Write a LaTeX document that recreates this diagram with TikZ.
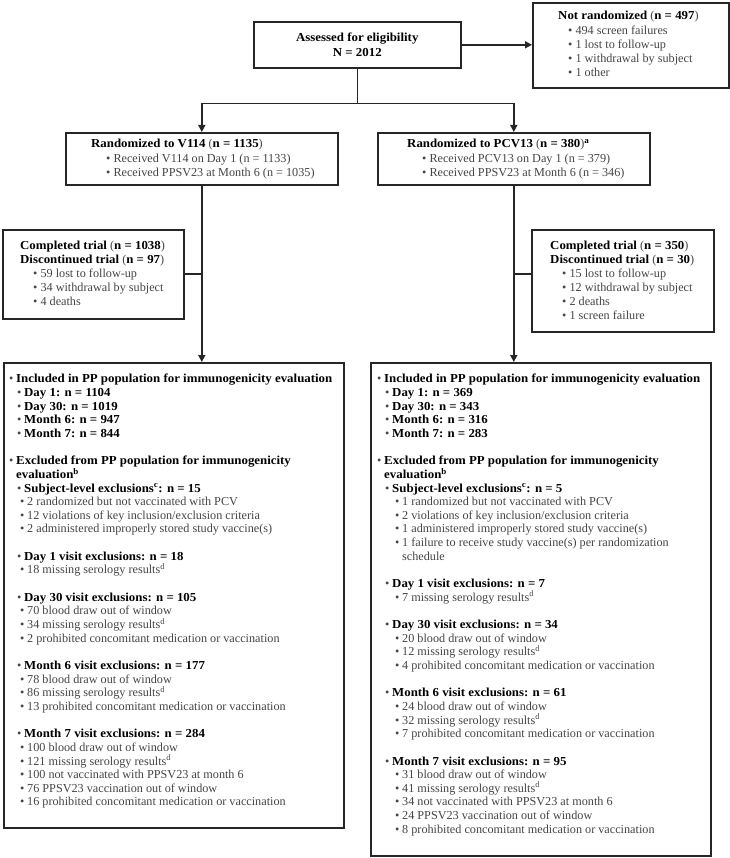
\documentclass[tikz,border=0pt]{standalone}
\usepackage{fontspec}
\setmainfont{Liberation Serif}[BoldFeatures={FakeStretch=1.055}]
\usetikzlibrary{arrows.meta}
\definecolor{txt}{gray}{0.27}
\definecolor{edge}{gray}{0.15}
\newcommand\bu{\makebox[7pt][l]{•}}
\newcommand\B[1]{{\bfseries\color{black}#1}}
\newcommand\Ltwo{\hspace*{8pt}\bu}
\newcommand\Lthr{\hspace*{11pt}\bu}
\newcommand\Rtwo{\hspace*{8pt}\bu}
\newcommand\Rthr{\hspace*{18pt}\bu}
\newcommand\st{\rule{0pt}{9pt}}
\begin{document}
\begin{tikzpicture}[x=1pt,y=-1pt,
  box/.style={draw=edge, line width=1.6pt, anchor=north west, inner sep=0pt},
  tx/.style={anchor=north west, inner sep=0pt, align=left, text=txt},
  ln/.style={line width=1.6pt, draw=edge},
  arr/.style={ln, -{Triangle[length=7pt,width=7pt]}}]
\useasboundingbox (0,0) rectangle (729,858);

% boxes
\node[box, minimum width=207pt, minimum height=46pt] (assess) at (253,21) {};
\node[box, minimum width=196pt, minimum height=85pt] (nr) at (532,2) {};
\node[box, minimum width=272pt, minimum height=52pt] (v114) at (65,132) {};
\node[box, minimum width=272pt, minimum height=52pt] (pcv) at (377,132) {};
\node[box, minimum width=181pt, minimum height=89pt] (compL) at (2,229) {};
\node[box, minimum width=182pt, minimum height=102pt] (compR) at (531,229) {};
\node[box, minimum width=340pt, minimum height=465pt] (bigL) at (3,362) {};
\node[box, minimum width=340pt, minimum height=493pt] (bigR) at (370,362) {};

% texts
\node[align=center, inner sep=0pt, font=\fontsize{12.2}{15}\selectfont\bfseries] (assesst) at (assess.center) {Assessed for eligibility\\N = 2012};

\node[tx, font=\fontsize{12.2}{14.25}\selectfont] (nrt) at (558,10.6) {\st\B{Not randomized} (\B{n = 497})\\
\hspace*{10pt}• 494 screen failures\\
\hspace*{10pt}• 1 lost to follow-up\\
\hspace*{10pt}• 1 withdrawal by subject\\
\hspace*{10pt}• 1 other};

\node[tx, font=\fontsize{12.2}{14.5}\selectfont] (v114t) at (91,138.6) {\st\B{Randomized to V114} (\B{n = 1135})\\
\hspace*{15pt}• Received V114 on Day 1 (n = 1133)\\
\hspace*{15pt}• Received PPSV23 at Month 6 (n = 1035)};

\node[tx, font=\fontsize{12.2}{14.5}\selectfont] (pcvt) at (407,138.6) {\st\B{Randomized to PCV13} (\B{n = 380})\textsuperscript{\B{a}}\\
\hspace*{15pt}• Received PCV13 on Day 1 (n = 379)\\
\hspace*{15pt}• Received PPSV23 at Month 6 (n = 346)};

\node[tx, font=\fontsize{12.2}{14}\selectfont] (compLt) at (20,240.6) {\st\B{Completed trial} (\B{n = 1038})\\
\B{Discontinued trial} (\B{n = 97})\\
\hspace*{13pt}• 59 lost to follow-up\\
\hspace*{13pt}• 34 withdrawal by subject\\
\hspace*{13pt}• 4 deaths};

\node[tx, font=\fontsize{12.2}{14}\selectfont] (compRt) at (550,240.6) {\st\B{Completed trial} (\B{n = 350})\\
\B{Discontinued trial} (\B{n = 30})\\
\hspace*{12pt}• 15 lost to follow-up\\
\hspace*{12pt}• 12 withdrawal by subject\\
\hspace*{12pt}• 2 deaths\\
\hspace*{12pt}• 1 screen failure};

\node[tx, font=\fontsize{12.2}{13.65}\selectfont] (bigLt) at (9,373.6) {\st\bu\B{Included in PP population for immunogenicity evaluation}\\
\Ltwo\B{Day 1: n = 1104}\\
\Ltwo\B{Day 30: n = 1019}\\
\Ltwo\B{Month 6: n = 947}\\
\Ltwo\B{Month 7: n = 844}\\[13.65pt]
\bu\B{Excluded from PP population for immunogenicity}\\
\hspace*{7pt}\B{evaluation\textsuperscript{b}}\\
\Ltwo\B{Subject-level exclusions\textsuperscript{c}: n = 15}\\
\Lthr 2 randomized but not vaccinated with PCV\\
\Lthr 12 violations of key inclusion/exclusion criteria\\
\Lthr 2 administered improperly stored study vaccine(s)\\[13.65pt]
\Ltwo\B{Day 1 visit exclusions: n = 18}\\
\Lthr 18 missing serology results\textsuperscript{d}\\[13.65pt]
\Ltwo\B{Day 30 visit exclusions: n = 105}\\
\Lthr 70 blood draw out of window\\
\Lthr 34 missing serology results\textsuperscript{d}\\
\Lthr 2 prohibited concomitant medication or vaccination\\[13.65pt]
\Ltwo\B{Month 6 visit exclusions: n = 177}\\
\Lthr 78 blood draw out of window\\
\Lthr 86 missing serology results\textsuperscript{d}\\
\Lthr 13 prohibited concomitant medication or vaccination\\[13.65pt]
\Ltwo\B{Month 7 visit exclusions: n = 284}\\
\Lthr 100 blood draw out of window\\
\Lthr 121 missing serology results\textsuperscript{d}\\
\Lthr 100 not vaccinated with PPSV23 at month 6\\
\Lthr 76 PPSV23 vaccination out of window\\
\Lthr 16 prohibited concomitant medication or vaccination};

\node[tx, font=\fontsize{12.2}{13.65}\selectfont] (bigRt) at (377,373.6) {\st\bu\B{Included in PP population for immunogenicity evaluation}\\
\Rtwo\B{Day 1: n = 369}\\
\Rtwo\B{Day 30: n = 343}\\
\Rtwo\B{Month 6: n = 316}\\
\Rtwo\B{Month 7: n = 283}\\[13.65pt]
\bu\B{Excluded from PP population for immunogenicity}\\
\hspace*{7pt}\B{evaluation\textsuperscript{b}}\\
\Rtwo\B{Subject-level exclusions\textsuperscript{c}: n = 5}\\
\Rthr 1 randomized but not vaccinated with PCV\\
\Rthr 2 violations of key inclusion/exclusion criteria\\
\Rthr 1 administered improperly stored study vaccine(s)\\
\Rthr 1 failure to receive study vaccine(s) per randomization\\
\hspace*{25pt}schedule\\[13.65pt]
\Rtwo\B{Day 1 visit exclusions: n = 7}\\
\Rthr 7 missing serology results\textsuperscript{d}\\[13.65pt]
\Rtwo\B{Day 30 visit exclusions: n = 34}\\
\Rthr 20 blood draw out of window\\
\Rthr 12 missing serology results\textsuperscript{d}\\
\Rthr 4 prohibited concomitant medication or vaccination\\[13.65pt]
\Rtwo\B{Month 6 visit exclusions: n = 61}\\
\Rthr 24 blood draw out of window\\
\Rthr 32 missing serology results\textsuperscript{d}\\
\Rthr 7 prohibited concomitant medication or vaccination\\[13.65pt]
\Rtwo\B{Month 7 visit exclusions: n = 95}\\
\Rthr 31 blood draw out of window\\
\Rthr 41 missing serology results\textsuperscript{d}\\
\Rthr 34 not vaccinated with PPSV23 at month 6\\
\Rthr 24 PPSV23 vaccination out of window\\
\Rthr 8 prohibited concomitant medication or vaccination};

% connectors
\draw[arr] (assess.east) -- (assess.east -| nr.west);
\draw[arr] (assess.south) -- ++(0,35) -| (v114.north);
\draw[arr] (assess.south) -- ++(0,35) -| (pcv.north);
\draw[arr] (v114.south) -- (v114.south |- bigL.north);
\draw[arr] (pcv.south) -- (pcv.south |- bigR.north);
\draw[ln] (compL.east) -- (compL.east -| v114.south);
\coordinate (jR) at (514,274);
\draw[ln] (jR) -- (jR -| compR.west);
\end{tikzpicture}
\end{document}
